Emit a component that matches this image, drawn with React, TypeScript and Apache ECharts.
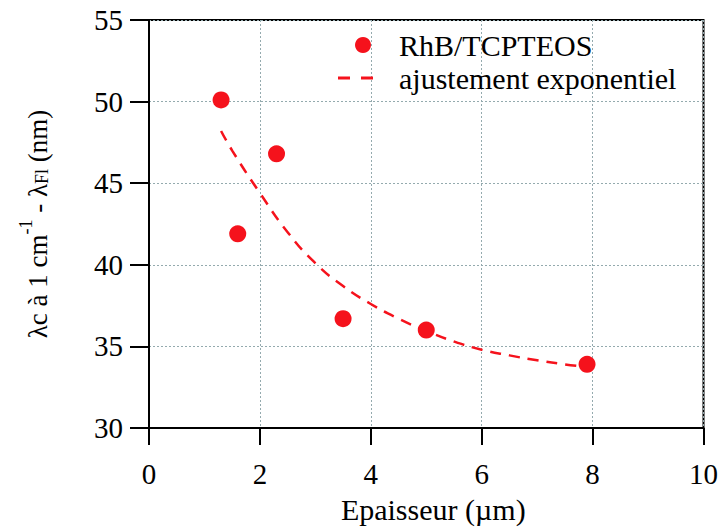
import React, { useEffect, useRef } from "react";
import * as echarts from "echarts";

const thicknessX = [1.3, 1.6, 2.3, 3.5, 5.0, 7.9];
const deltaLambda = [50.1, 41.9, 46.8, 36.7, 36.0, 33.9];

const fitX = [1.3, 1.5, 2.0, 2.5, 3.0, 3.5, 4.0, 4.5, 5.0, 5.5, 6.0, 6.5, 7.0, 7.5, 7.9];
const fitY = [48.2, 47.0, 44.4, 42.0, 40.1, 38.7, 37.6, 36.7, 35.95, 35.3, 34.8, 34.45, 34.15, 33.9, 33.75];

const xTicks = [0, 2, 4, 6, 8, 10];
const yTicks = [30, 35, 40, 45, 50, 55];

const seriesNames = ["RhB/TCPTEOS", "ajustement exponentiel"];

const FONT = "Liberation Serif";
const RED = "#f5121c";

export default function App() {
  const ref = useRef<HTMLDivElement>(null);
  useEffect(() => {
    if (!ref.current) return;
    const chart = echarts.init(ref.current, null, { renderer: "svg" });
    chart.setOption({
      animation: false,
      backgroundColor: "#fff",
      textStyle: { fontFamily: FONT },
      grid: {
        left: 149,
        right: 17,
        top: 20,
        bottom: 101,
        show: true,
        borderColor: "#000",
        borderWidth: 2,
      },
      legend: [
        {
          data: [seriesNames[0]],
          orient: "vertical",
          left: 350,
          top: 25,
          itemWidth: 16,
          itemHeight: 16,
          textStyle: { fontFamily: FONT, fontSize: 30, lineHeight: 29, color: "#000", padding: [0, 0, 0, 23] },
        },
        {
          data: [{ name: seriesNames[1], icon: "path://M0,0h12v3h-12z M23,0h12v3h-12z" }],
          orient: "vertical",
          left: 333,
          top: 58,
          itemWidth: 35,
          itemHeight: 3,
          textStyle: { fontFamily: FONT, fontSize: 30, lineHeight: 29, color: "#000", padding: [0, 0, 0, 21] },
        },
      ],
      xAxis: {
        type: "value",
        min: xTicks[0],
        max: xTicks[xTicks.length - 1],
        interval: 2,
        name: "Epaisseur (µm)",
        nameLocation: "middle",
        nameGap: 66,
        nameTextStyle: { fontFamily: FONT, fontSize: 30, color: "#000", padding: [0, 0, 0, 14] },
        axisLine: { lineStyle: { color: "#000", width: 2 } },
        axisTick: { show: true, inside: false, length: 17, lineStyle: { color: "#000", width: 2 } },
        axisLabel: { fontFamily: FONT, fontSize: 29, color: "#000", margin: 31 },
        splitLine: { show: true, lineStyle: { color: "#94aaae", width: 1, type: [2, 2] } },
      },
      yAxis: {
        type: "value",
        min: yTicks[0],
        max: yTicks[yTicks.length - 1],
        interval: 5,
        name: "{a|λc à 1 cm}{sup|-1}{a| - λ}{sub|Fl}{a| (nm)}",
        nameLocation: "middle",
        nameGap: 98,
        nameRotate: 90,
        nameTextStyle: {
          fontFamily: FONT,
          fontSize: 27,
          color: "#000",
          rich: {
            a: { fontFamily: FONT, fontSize: 27, color: "#000", lineHeight: 34, verticalAlign: "bottom" },
            sup: { fontFamily: FONT, fontSize: 18, color: "#000", lineHeight: 34, verticalAlign: "top" },
            sub: { fontFamily: FONT, fontSize: 18, color: "#000", lineHeight: 34, verticalAlign: "bottom" },
          },
        },
        axisLine: { lineStyle: { color: "#000", width: 2 } },
        axisTick: { show: true, inside: false, length: 19, lineStyle: { color: "#000", width: 2 } },
        axisLabel: { fontFamily: FONT, fontSize: 29, color: "#000", margin: 26 },
        splitLine: { show: true, lineStyle: { color: "#94aaae", width: 1, type: [2, 2] } },
      },
      series: [
        {
          name: seriesNames[1],
          type: "line",
          data: fitX.map((x, i) => [x, fitY[i]]),
          smooth: true,
          symbol: "none",
          lineStyle: { color: RED, width: 2.5, type: [11, 8] },
          itemStyle: { color: RED },
          z: 2,
        },
        {
          name: seriesNames[0],
          type: "scatter",
          data: thicknessX.map((x, i) => [x, deltaLambda[i]]),
          symbol: "circle",
          symbolSize: 17,
          itemStyle: { color: RED, opacity: 1 },
          z: 3,
        },
      ],
    });
    return () => chart.dispose();
  }, []);
  return <div ref={ref} style={{ width: 721, height: 529, position: "absolute", left: 0, top: 0 }} />;
}
